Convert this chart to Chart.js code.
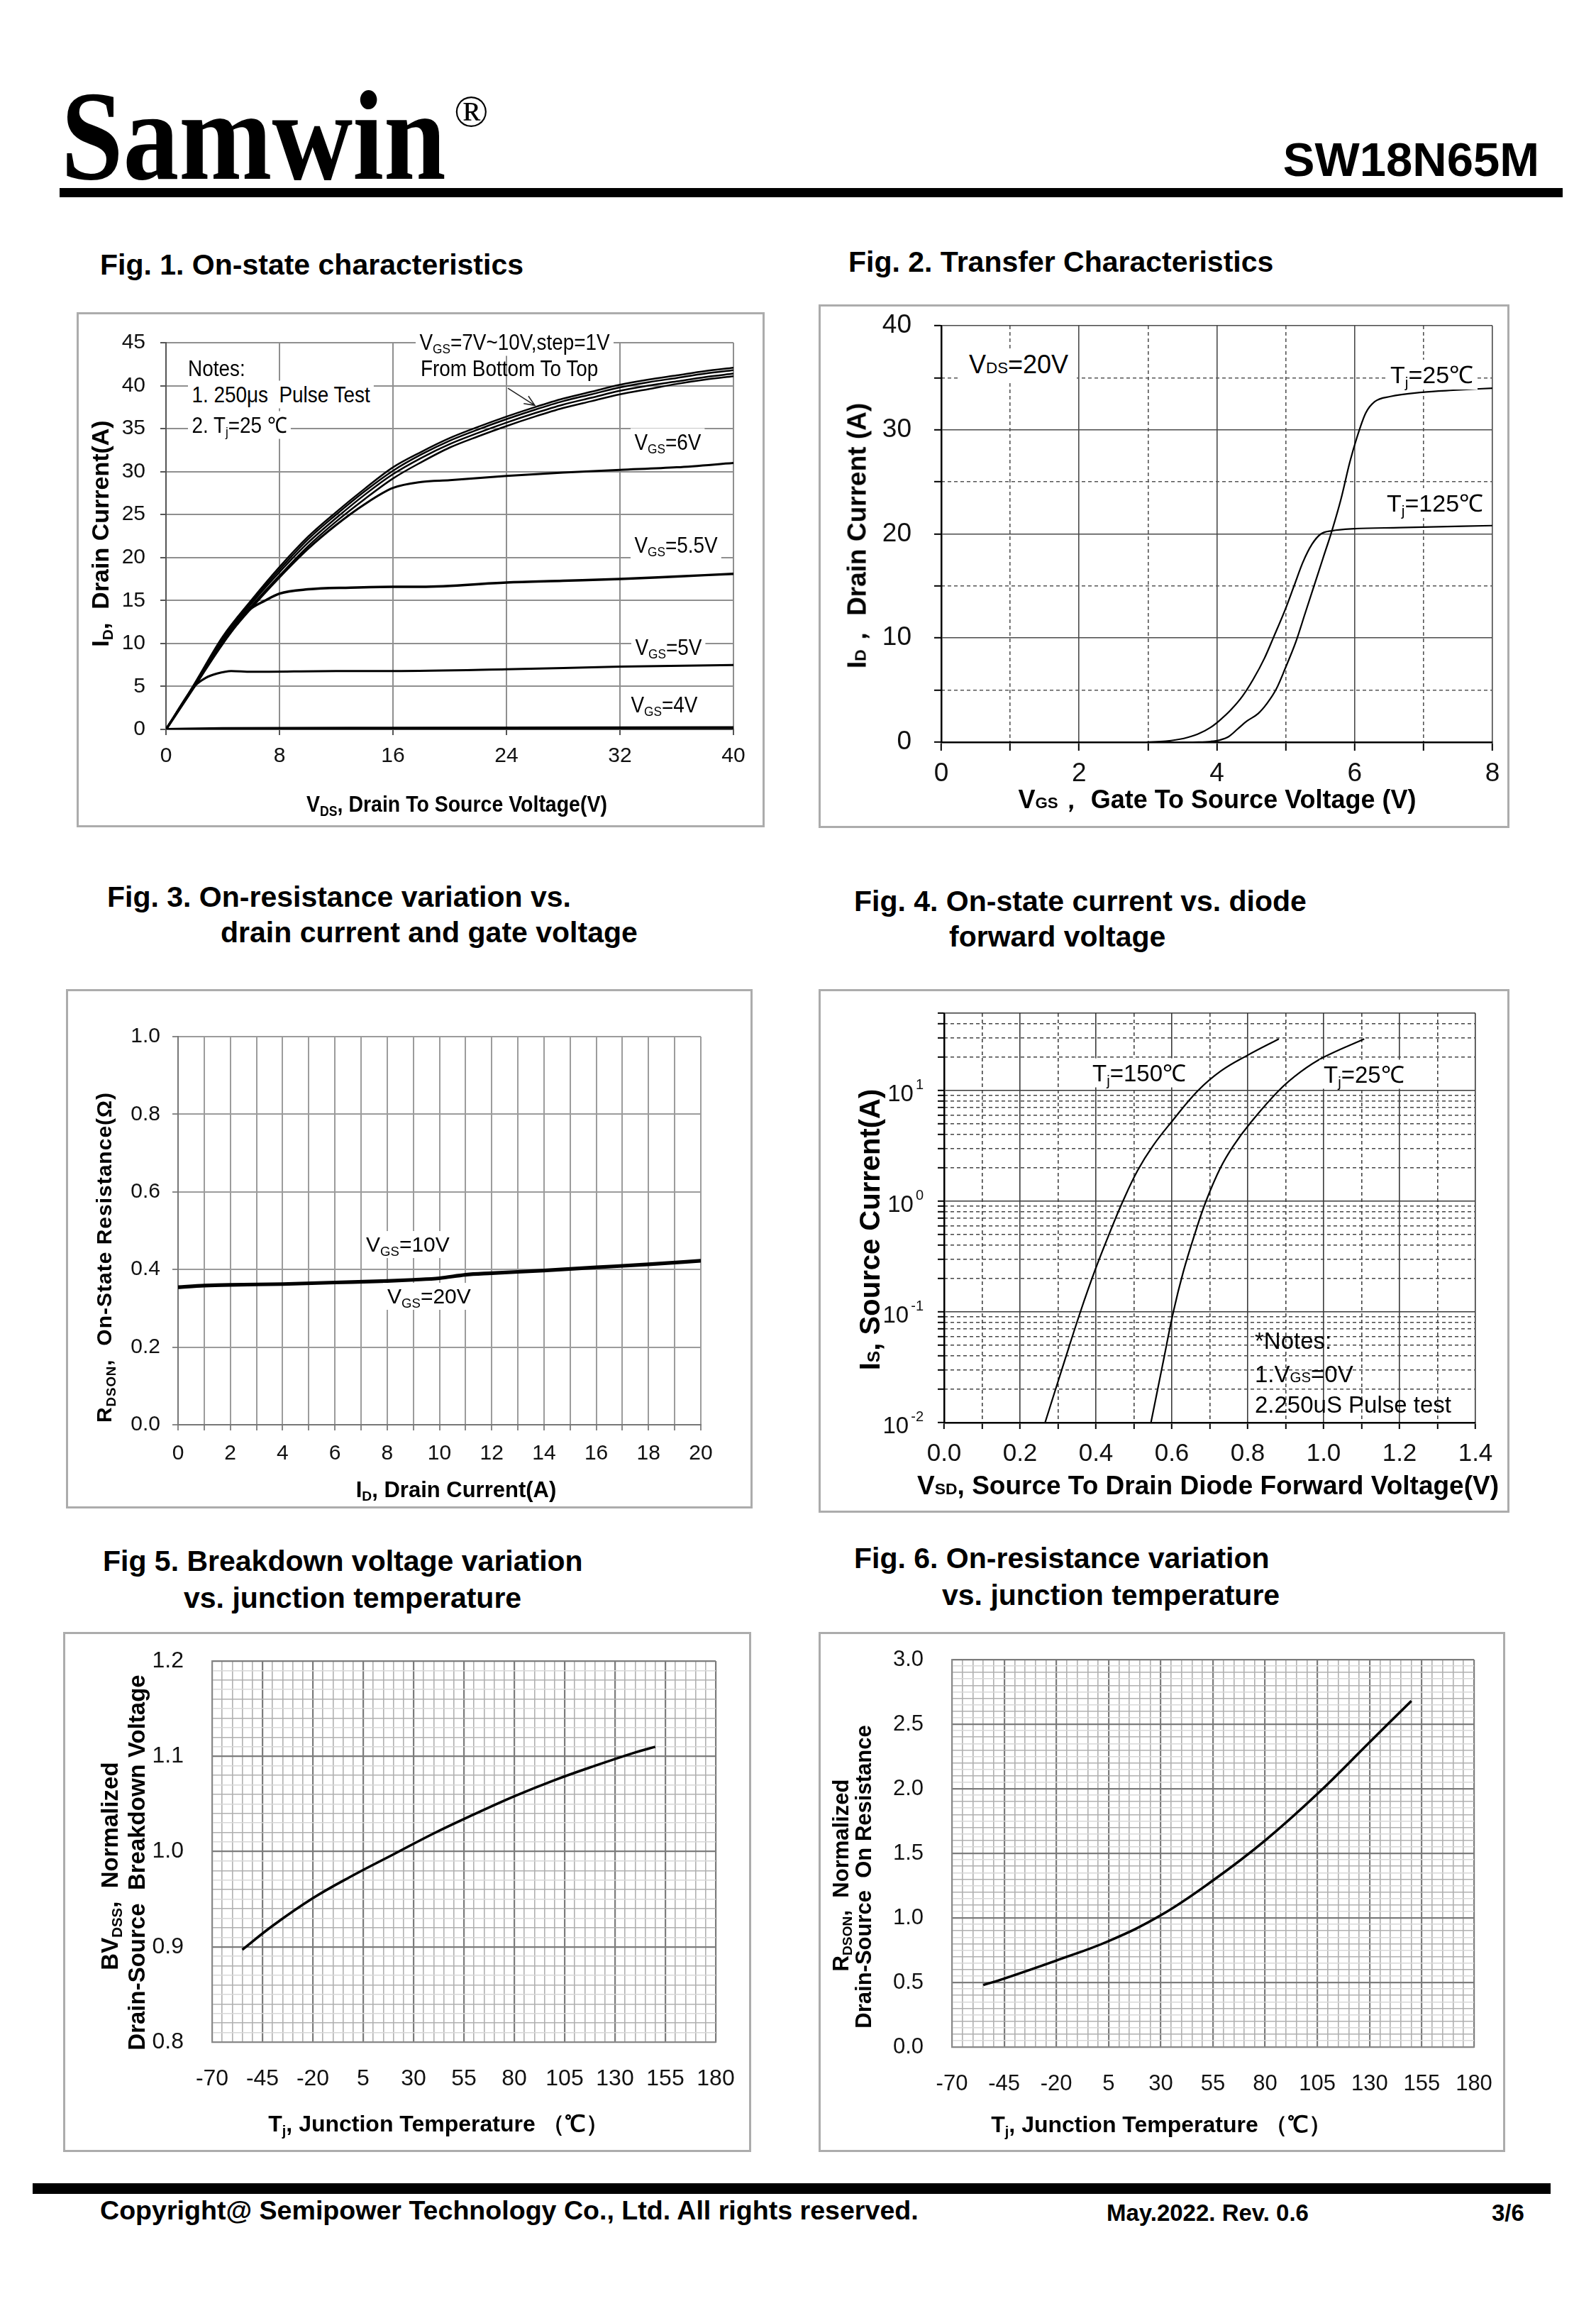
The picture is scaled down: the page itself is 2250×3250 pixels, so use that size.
<!DOCTYPE html>
<html>
<head>
<meta charset="utf-8">
<title>SW18N65M</title>
<script src="https://cdn.jsdelivr.net/npm/chart.js@4.4.1/dist/chart.umd.min.js"></script>
<style>
  html, body { margin: 0; padding: 0; background: #fff; }
  body { width: 2250px; height: 3250px; position: relative; overflow: hidden;
         font-family: 'Liberation Sans', Arial, sans-serif; color: #000; }
  .abs  { position: absolute; white-space: nowrap; line-height: 1; }
  .frame { position: absolute; box-sizing: border-box; border: 3px solid #acacac; z-index: 2; }
  canvas { position: absolute; z-index: 1; }
  .figt { font-weight: bold; font-size: 41px; transform: translateY(-50%); }
  .ann  { transform: translateY(-50%); z-index: 3; }
  .n1   { font-size: 31px; transform: translateY(-50%) scaleX(.9); transform-origin: left center; }
  .bg   { background: #fff; padding: 4px 6px; margin-left: -6px; }
  .ttl  { font-weight: bold; transform: translate(-50%, -50%); z-index: 3; }
  .rot  { font-weight: bold; transform: translate(-50%, -50%) rotate(-90deg); z-index: 3; }
  sub { font-size: 62%; vertical-align: -0.3em; line-height: 0; }
  .sm { font-size: 62%; }
  .bar { position: absolute; background: #000; }
</style>
</head>
<body>

<!-- header -->
<div class="abs" style="left:86px;top:192px;transform:translateY(-50%) scaleX(.875);transform-origin:left center;font-family:'Liberation Serif','Times New Roman',serif;font-weight:bold;font-size:180px;">Samwin</div>
<div class="abs" style="left:640px;top:157px;transform:translateY(-50%);font-family:'Liberation Serif','Times New Roman',serif;font-size:64px;">®</div>
<div class="abs" style="right:80px;top:224px;transform:translateY(-50%);font-weight:bold;font-size:67px;">SW18N65M</div>
<div class="bar" style="left:84px;top:265px;width:2119px;height:13px;"></div>

<!-- figure titles -->
<div class="abs figt" style="left:141px;top:373px;">Fig. 1. On-state characteristics</div>
<div class="abs figt" style="left:1196px;top:369px;">Fig. 2. Transfer Characteristics</div>
<div class="abs figt" style="left:151px;top:1264px;">Fig. 3. On-resistance variation vs.</div>
<div class="abs figt" style="left:311px;top:1314px;">drain current and gate voltage</div>
<div class="abs figt" style="left:1204px;top:1270px;">Fig. 4. On-state current vs. diode</div>
<div class="abs figt" style="left:1338px;top:1320px;">forward voltage</div>
<div class="abs figt" style="left:145px;top:2200px;">Fig 5. Breakdown voltage variation</div>
<div class="abs figt" style="left:259px;top:2252px;">vs. junction temperature</div>
<div class="abs figt" style="left:1204px;top:2196px;">Fig. 6. On-resistance variation</div>
<div class="abs figt" style="left:1328px;top:2248px;">vs. junction temperature</div>

<!-- chart frames + canvases -->
<div class="frame" style="left:108px;top:440px;width:970px;height:726px;"></div>
<div class="frame" style="left:1154px;top:429px;width:974px;height:738px;"></div>
<div class="frame" style="left:93px;top:1394px;width:968px;height:732px;"></div>
<div class="frame" style="left:1154px;top:1394px;width:974px;height:738px;"></div>
<div class="frame" style="left:89px;top:2300px;width:970px;height:733px;"></div>
<div class="frame" style="left:1154px;top:2300px;width:968px;height:733px;"></div>
<canvas id="c1"></canvas>
<canvas id="c2"></canvas>
<canvas id="c3"></canvas>
<canvas id="c4"></canvas>
<canvas id="c5"></canvas>
<canvas id="c6"></canvas>

<!-- Fig.1 texts -->
<div class="abs ann n1 bg" style="left:592px;top:482px;">V<sub>GS</sub>=7V~10V,step=1V</div>
<div class="abs ann n1" style="left:593px;top:519px;">From Bottom To Top</div>
<div class="abs ann n1" style="left:265px;top:519px;">Notes:</div>
<div class="abs ann n1 bg" style="left:271px;top:556px;">1. 250μs&nbsp; Pulse Test</div>
<div class="abs ann n1 bg" style="left:271px;top:599px;">2. T<sub>j</sub>=25 ℃</div>
<div class="abs ann n1 bg" style="left:895px;top:623px;">V<sub>GS</sub>=6V</div>
<div class="abs ann n1 bg" style="left:895px;top:768px;">V<sub>GS</sub>=5.5V</div>
<div class="abs ann n1 bg" style="left:896px;top:912px;">V<sub>GS</sub>=5V</div>
<div class="abs ann n1 bg" style="left:890px;top:993px;">V<sub>GS</sub>=4V</div>
<div class="abs ttl" style="left:644px;top:1133px;font-size:32px;transform:translate(-50%,-50%) scaleX(.89);">V<sub>DS</sub>, Drain To Source Voltage(V)</div>
<div class="abs rot" style="left:141px;top:752px;font-size:34px;">I<sub>D</sub>,&nbsp; Drain Current(A)</div>

<!-- Fig.2 texts -->
<div class="abs ann bg" style="left:1366px;top:514px;font-size:36px;padding:4px 12px;margin-left:-12px;">V<span class="sm">DS</span>=20V</div>
<div class="abs ann bg" style="left:1960px;top:528px;font-size:34px;">T<sub>j</sub>=25℃</div>
<div class="abs ann bg" style="left:1955px;top:709px;font-size:34px;">T<sub>j</sub>=125℃</div>
<div class="abs ttl" style="left:1716px;top:1127px;font-size:36px;">V<span class="sm">GS</span>，&nbsp;Gate To Source Voltage (V)</div>
<div class="abs rot" style="left:1208px;top:755px;font-size:37px;">I<span class="sm">D</span>，&nbsp;Drain Current (A)</div>

<!-- Fig.3 texts -->
<div class="abs ann bg" style="left:516px;top:1754px;font-size:30px;">V<sub>GS</sub>=10V</div>
<div class="abs ann bg" style="left:546px;top:1827px;font-size:30px;">V<sub>GS</sub>=20V</div>
<div class="abs ttl" style="left:643px;top:2099px;font-size:31px;">I<sub>D</sub>, Drain Current(A)</div>
<div class="abs rot" style="left:147px;top:1772px;font-size:30px;letter-spacing:1px;">R<sub>DSON</sub>,&nbsp; On-State Resistance(Ω)</div>

<!-- Fig.4 texts -->
<div class="abs ann bg" style="left:1540px;top:1512px;font-size:33px;">T<sub>j</sub>=150℃</div>
<div class="abs ann bg" style="left:1866px;top:1514px;font-size:33px;">T<sub>j</sub>=25℃</div>
<div class="abs ann" style="left:1769px;top:1889px;font-size:33px;">*Notes:</div>
<div class="abs ann" style="left:1769px;top:1936px;font-size:33px;">1.V<span class="sm">GS</span>=0V</div>
<div class="abs ann" style="left:1769px;top:1979px;font-size:33px;">2.250uS Pulse test</div>
<div class="abs ttl" style="left:1703px;top:2093px;font-size:37px;">V<span class="sm">SD</span>, Source To Drain Diode Forward Voltage(V)</div>
<div class="abs rot" style="left:1226px;top:1733px;font-size:40px;">I<span class="sm">S</span>, Source Current(A)</div>

<!-- Fig.5 texts -->
<div class="abs ttl" style="left:618px;top:2993px;font-size:32px;">T<sub>j</sub>, Junction Temperature （℃）</div>
<div class="abs rot" style="left:154px;top:2630px;font-size:33px;">BV<sub>DSS</sub>,&nbsp; Normalized</div>
<div class="abs rot" style="left:192px;top:2625px;font-size:33px;">Drain-Source&nbsp; Breakdown Voltage</div>

<!-- Fig.6 texts -->
<div class="abs ttl" style="left:1637px;top:2994px;font-size:32px;">T<sub>j</sub>, Junction Temperature （℃）</div>
<div class="abs rot" style="left:1185px;top:2643px;font-size:31px;">R<sub>DSON</sub>,&nbsp; Normalized</div>
<div class="abs rot" style="left:1217px;top:2645px;font-size:31px;">Drain-Source&nbsp; On Resistance</div>

<!-- footer -->
<div class="bar" style="left:46px;top:3077px;width:2140px;height:15px;"></div>
<div class="abs" style="left:141px;top:3116px;transform:translateY(-50%);font-weight:bold;font-size:37.6px;">Copyright@ Semipower Technology Co., Ltd. All rights reserved.</div>
<div class="abs" style="left:1560px;top:3118px;transform:translateY(-50%);font-weight:bold;font-size:33px;">May.2022. Rev. 0.6</div>
<div class="abs" style="left:2103px;top:3118px;transform:translateY(-50%);font-weight:bold;font-size:33px;">3/6</div>

<script>
/* ---------- data ---------- */

// Fig.1  ID vs VDS, pairs [VDS (V), ID (A)]
const id4V  = [[0,0],[4,0.1],[16,0.15],[40,0.2]];
const id5V  = [[0,0],[2,5],[2.8,6],[3.6,6.5],[4.6,6.8],[6,6.7],[12,6.8],[16,6.8],[24,7],[32,7.3],[40,7.5]];
const id55V = [[0,0],[2,5],[4,10],[5.8,13.8],[7,15],[8,15.8],[10,16.3],[13,16.5],[16,16.6],[18,16.6],[24,17.1],[28,17.3],[32,17.5],[36,17.8],[40,18.1]];
const id6V  = [[0,0],[2,5],[4,10.1],[6,14.1],[8,17.7],[10,21],[12,23.8],[14,26.2],[16,28.1],[18,28.8],[20,29],[24,29.5],[28,29.9],[32,30.2],[36,30.5],[40,31]];
const id7V  = [[0,0],[2,5],[4,10.2],[6,14.3],[8,17.9],[10,21.3],[12,24.2],[14,26.8],[16,29.2],[18,31.1],[20,32.8],[22,34.1],[24,35.3],[26,36.4],[28,37.4],[30,38.2],[32,39],[34,39.6],[36,40.2],[38,40.7],[40,41.1]];
const id8V  = [[0,0],[2,5.1],[4,10.4],[6,14.6],[8,18.3],[10,21.7],[12,24.6],[14,27.3],[16,29.7],[18,31.6],[20,33.2],[22,34.5],[24,35.7],[26,36.8],[28,37.8],[30,38.6],[32,39.4],[34,40],[36,40.5],[38,41],[40,41.4]];
const id9V  = [[0,0],[2,5.2],[4,10.6],[6,14.8],[8,18.6],[10,22.1],[12,25],[14,27.7],[16,30.1],[18,32],[20,33.6],[22,34.9],[24,36.1],[26,37.2],[28,38.2],[30,39],[32,39.8],[34,40.4],[36,40.9],[38,41.4],[40,41.8]];
const id10V = [[0,0],[2,5.3],[4,10.8],[6,15],[8,18.9],[10,22.4],[12,25.3],[14,28],[16,30.5],[18,32.3],[20,33.9],[22,35.2],[24,36.4],[26,37.5],[28,38.5],[30,39.3],[32,40.1],[34,40.7],[36,41.2],[38,41.7],[40,42.1]];
const fig1Arrow = [[24.1, 39.7], [26, 37.7]];   // label arrow, data coords

// Fig.2  ID vs VGS, [VGS (V), ID (A)]
const tr25  = [[3.65,0],[3.91,0.07],[4.04,0.2],[4.17,0.53],[4.3,1.26],[4.43,2],[4.6,2.75],[4.73,3.74],[4.86,5.07],[4.99,7.05],[5.15,9.7],[5.28,12.35],[5.41,15],[5.54,17.65],[5.67,20.3],[5.8,23.3],[5.93,26.9],[6.03,29.2],[6.16,31.6],[6.29,32.7],[6.52,33.2],[6.98,33.6],[7.43,33.8],[8,34]];
const tr125 = [[2.97,0],[3.26,0.1],[3.52,0.36],[3.72,0.76],[3.91,1.42],[4.04,2.09],[4.2,3.08],[4.37,4.4],[4.53,6.06],[4.69,8.05],[4.82,10.03],[4.99,12.7],[5.12,15],[5.25,17.3],[5.38,19],[5.51,20],[5.67,20.3],[6,20.5],[6.65,20.6],[8,20.8]];

// Fig.3  RDSON vs ID, [ID (A), R (ohm)]
const rds10V = [[0,0.356],[1,0.36],[2,0.362],[4,0.364],[6,0.368],[8,0.372],[9,0.375],[10,0.379],[11,0.388],[12,0.392],[14,0.399],[16,0.407],[18,0.415],[20,0.424]];
const rds20V = [[0,0.353],[1,0.357],[2,0.359],[4,0.361],[6,0.365],[8,0.369],[9,0.372],[10,0.376],[11,0.385],[12,0.389],[14,0.396],[16,0.404],[18,0.412],[20,0.421]];

// Fig.4  IS vs VSD, [VSD (V), IS (A)]
const diode150 = [[0.266,0.01],[0.312,0.0316],[0.359,0.1],[0.398,0.24],[0.438,0.537],[0.471,1],[0.51,1.9],[0.55,3.16],[0.6,5.25],[0.669,10],[0.73,15.1],[0.8,20.9],[0.882,29.3]];
const diode25  = [[0.545,0.01],[0.575,0.0324],[0.604,0.1],[0.63,0.229],[0.66,0.5],[0.69,1],[0.728,2],[0.762,3.16],[0.805,5],[0.882,10],[0.94,14.8],[1.0,20],[1.107,29.3]];
const logDecades = [-2, -1, 0, 1];
const logMantissa = [1, 2, 3, 4, 5, 6, 7, 8, 9];

// Fig.5  BVDSS (normalized) vs Tj, [Tj (C), BV]
const bvTj = [[-55,0.897],[-40,0.922],[-20,0.951],[0,0.975],[20,0.997],[40,1.019],[60,1.039],[80,1.058],[100,1.075],[120,1.09],[140,1.104],[150,1.11]];

// Fig.6  RDSON (normalized) vs Tj, [Tj (C), R]
const ronTj = [[-55,0.48],[-45,0.53],[-20,0.67],[5,0.82],[30,1.02],[55,1.29],[80,1.6],[105,1.96],[130,2.36],[150,2.68]];

/* ---------- helpers ---------- */
Chart.defaults.font.family = "'Liberation Sans', Arial, sans-serif";
Chart.defaults.color = '#111';
Chart.defaults.plugins.legend.display = false;
Chart.defaults.plugins.tooltip.enabled = false;
Chart.defaults.elements.point.radius = 0;

// canvas covers the frame; chart area placed through padding + fixed axis sizes
function place(id, box, area) {
  const c = document.getElementById(id);
  c.width = box[2] - box[0];
  c.height = box[3] - box[1];
  Object.assign(c.style, { left: box[0] + 'px', top: box[1] + 'px', width: c.width + 'px', height: c.height + 'px' });
  return {
    el: c,
    pad: { left: 0, top: area[1] - box[1], right: box[2] - area[2], bottom: 0 },
    yw: area[0] - box[0],
    xh: box[3] - area[3]
  };
}
// force an axis to a fixed size and stop its label overhang from moving the plot area
const fix = n => s => {
  if (s.isHorizontal()) s.height = n; else s.width = n;
  s.paddingTop = s.paddingBottom = s.paddingLeft = s.paddingRight = 0;
};
// monotone spline for the curves with flat plateaus, plain tension spline for the smooth ones
const line = (pts, w, smooth) => ({
  data: pts.map(p => ({ x: p[0], y: p[1] })),
  borderColor: '#000', borderWidth: w, fill: false,
  tension: 0.4, cubicInterpolationMode: smooth ? 'default' : 'monotone'
});
const base = L => ({
  responsive: false, animation: false, events: [], devicePixelRatio: 1,
  layout: { padding: L.pad }
});
const near = (v, step) => Math.abs(v / step - Math.round(v / step)) < 1e-6;
// a grid-only twin axis (no size, no labels) used for the dashed lines
const twin = (o) => Object.assign({
  display: true, afterFit: fix(0),
  ticks: { display: false, autoSkip: false }
}, o);

/* ---------- Fig.1 ---------- */
const L1 = place('c1', [108, 440, 1078, 1166], [234, 483, 1034, 1028]);
const arrowPlugin = {
  id: 'arrow',
  afterDatasetsDraw(chart) {
    const { ctx, scales: { x, y } } = chart;
    const x0 = x.getPixelForValue(fig1Arrow[0][0]), y0 = y.getPixelForValue(fig1Arrow[0][1]);
    const x1 = x.getPixelForValue(fig1Arrow[1][0]), y1 = y.getPixelForValue(fig1Arrow[1][1]);
    const a = Math.atan2(y1 - y0, x1 - x0);
    ctx.save();
    ctx.strokeStyle = '#222'; ctx.lineWidth = 1.6;
    ctx.beginPath(); ctx.moveTo(x0, y0); ctx.lineTo(x1, y1);
    ctx.moveTo(x1 - 16 * Math.cos(a - 0.4), y1 - 16 * Math.sin(a - 0.4)); ctx.lineTo(x1, y1);
    ctx.lineTo(x1 - 16 * Math.cos(a + 0.4), y1 - 16 * Math.sin(a + 0.4));
    ctx.stroke();
    ctx.restore();
  }
};
new Chart(L1.el, {
  type: 'line',
  data: { datasets: [line(id4V, 4), line(id5V, 3), line(id55V, 3.5), line(id6V, 3),
                     line(id7V, 2.5), line(id8V, 2.5), line(id9V, 2.5), line(id10V, 2.5)] },
  options: Object.assign(base(L1), {
    scales: {
      x: { type: 'linear', min: 0, max: 40, afterFit: fix(L1.xh),
           ticks: { stepSize: 8, autoSkip: false, maxRotation: 0, padding: 12, font: { size: 30 } },
           grid: { color: '#8f8f8f', lineWidth: 2, tickLength: 8, tickColor: '#555' },
           border: { color: '#555', width: 2 } },
      y: { type: 'linear', min: 0, max: 45, afterFit: fix(L1.yw),
           ticks: { stepSize: 5, autoSkip: false, padding: 21, font: { size: 30 } },
           grid: { color: '#8f8f8f', lineWidth: 2, tickLength: 8, tickColor: '#555' },
           border: { color: '#555', width: 2 } }
    }
  }),
  plugins: [arrowPlugin]
});

/* ---------- Fig.2 ---------- */
const L2 = place('c2', [1154, 429, 2128, 1167], [1327, 459, 2104, 1046]);
new Chart(L2.el, {
  type: 'line',
  data: { datasets: [line(tr25, 2.2), line(tr125, 2.2)] },
  options: Object.assign(base(L2), {
    scales: {
      x: { type: 'linear', min: 0, max: 8, afterFit: fix(L2.xh),
           ticks: { stepSize: 1, autoSkip: false, maxRotation: 0, padding: 11, font: { size: 37 },
                    callback: v => near(v, 2) ? String(v) : '' },
           grid: { color: c => near(c.tick.value, 2) ? '#4a4a4a' : 'rgba(0,0,0,0)', lineWidth: 1.6,
                   tickLength: 12, tickColor: '#000', tickWidth: 2 },
           border: { color: '#000', width: 2.5 } },
      x2: twin({ type: 'linear', position: 'bottom', min: 0, max: 8,
           ticks: { display: false, stepSize: 1, autoSkip: false },
           grid: { color: c => near(c.tick.value, 2) ? 'rgba(0,0,0,0)' : '#555', lineWidth: 1.6, drawTicks: false },
           border: { display: false, dash: [5, 4] } }),
      y: { type: 'linear', min: 0, max: 40, afterFit: fix(L2.yw),
           ticks: { stepSize: 5, autoSkip: false, padding: 32, font: { size: 37 },
                    callback: v => near(v, 10) ? String(v) : '' },
           grid: { color: c => near(c.tick.value, 10) ? '#4a4a4a' : 'rgba(0,0,0,0)', lineWidth: 1.6,
                   tickLength: 10, tickColor: '#000', tickWidth: 2 },
           border: { color: '#000', width: 2.5 } },
      y2: twin({ type: 'linear', position: 'left', min: 0, max: 40,
           ticks: { display: false, stepSize: 5, autoSkip: false },
           grid: { color: c => near(c.tick.value, 10) ? 'rgba(0,0,0,0)' : '#555', lineWidth: 1.6, drawTicks: false },
           border: { display: false, dash: [5, 4] } })
    }
  })
});

/* ---------- Fig.3 ---------- */
const L3 = place('c3', [93, 1394, 1061, 2126], [251, 1461, 988, 2008]);
new Chart(L3.el, {
  type: 'line',
  data: { datasets: [line(rds10V, 3.5), line(rds20V, 3.5)] },
  options: Object.assign(base(L3), {
    scales: {
      x: { type: 'linear', min: 0, max: 20, afterFit: fix(L3.xh),
           ticks: { stepSize: 1, autoSkip: false, maxRotation: 0, padding: 15, font: { size: 30 },
                    callback: v => near(v, 2) ? String(v) : '' },
           grid: { color: '#9c9c9c', lineWidth: 2, tickLength: 8, tickColor: '#888' },
           border: { color: '#777', width: 2 } },
      y: { type: 'linear', min: 0, max: 1, afterFit: fix(L3.yw),
           ticks: { stepSize: 0.2, autoSkip: false, padding: 17, font: { size: 30 }, callback: v => v.toFixed(1) },
           grid: { color: '#9c9c9c', lineWidth: 2, tickLength: 8, tickColor: '#888' },
           border: { color: '#777', width: 2 } }
    }
  })
});

/* ---------- Fig.4 ---------- */
const L4 = place('c4', [1154, 1394, 2128, 2132], [1331, 1428, 2080, 2005]);
const logTicks = [];
logDecades.forEach(d => logMantissa.forEach(m => logTicks.push(+(m * Math.pow(10, d)).toPrecision(3))));
const logAll = [...new Set(logTicks.concat([20, 30, 40, 50]))].filter(v => v <= 50).sort((a, b) => a - b);
const isDecade = v => logDecades.some(d => Math.abs(v - Math.pow(10, d)) < 1e-9) || v === 50;
const expLabels = {
  id: 'expLabels',
  afterDraw(chart) {
    const { ctx, chartArea, scales: { y } } = chart;
    ctx.save();
    ctx.fillStyle = '#111';
    ctx.textBaseline = 'middle';
    logDecades.forEach(d => {
      const py = y.getPixelForValue(Math.pow(10, d));
      const right = chartArea.left - 29;
      ctx.font = "20px 'Liberation Sans', Arial, sans-serif";
      ctx.textAlign = 'right';
      const ew = ctx.measureText(String(d)).width;
      ctx.fillText(String(d), right, py - 8);
      ctx.font = "33px 'Liberation Sans', Arial, sans-serif";
      ctx.fillText('10', right - ew - 3, py + 6);
    });
    ctx.restore();
  }
};
new Chart(L4.el, {
  type: 'line',
  data: { datasets: [line(diode150, 2.2, true), line(diode25, 2.2, true)] },
  options: Object.assign(base(L4), {
    scales: {
      x: { type: 'linear', min: 0, max: 1.4, afterFit: fix(L4.xh),
           ticks: { stepSize: 0.1, autoSkip: false, maxRotation: 0, padding: 14, font: { size: 35 },
                    callback: v => near(v, 0.2) ? v.toFixed(1) : '' },
           grid: { color: c => near(c.tick.value, 0.2) ? '#3a3a3a' : 'rgba(0,0,0,0)', lineWidth: 1.6,
                   tickLength: 9, tickColor: '#000', tickWidth: 2 },
           border: { color: '#000', width: 2.5 } },
      x2: twin({ type: 'linear', position: 'bottom', min: 0, max: 1.4,
           ticks: { display: false, stepSize: 0.1, autoSkip: false },
           grid: { color: c => near(c.tick.value, 0.2) ? 'rgba(0,0,0,0)' : '#444', lineWidth: 1.6, drawTicks: false },
           border: { display: false, dash: [5, 4] } }),
      y: { type: 'logarithmic', min: 0.01, max: 50, afterFit: fix(L4.yw),
           afterBuildTicks: s => { s.ticks = logAll.map(v => ({ value: v })); },
           ticks: { autoSkip: false, padding: 8, font: { size: 30 }, callback: () => '' },
           grid: { color: c => isDecade(c.tick.value) ? '#3a3a3a' : 'rgba(0,0,0,0)', lineWidth: 1.6,
                   tickLength: 9, tickColor: '#000', tickWidth: 2 },
           border: { color: '#000', width: 2.5 } },
      y2: twin({ type: 'logarithmic', position: 'left', min: 0.01, max: 50,
           afterBuildTicks: s => { s.ticks = logAll.map(v => ({ value: v })); },
           grid: { color: c => isDecade(c.tick.value) ? 'rgba(0,0,0,0)' : '#444', lineWidth: 1.6, drawTicks: false },
           border: { display: false, dash: [5, 4] } })
    }
  }),
  plugins: [expLabels]
});

/* ---------- Fig.5 & Fig.6 (fine graph-paper grid) ---------- */
const tempCol = c => near(c.tick.value + 70, 25) ? '#7c7c7c' : '#b0b0b0';
const tempW   = c => near(c.tick.value + 70, 25) ? 2.2 : 1.6;

const L5 = place('c5', [89, 2300, 1059, 3033], [299, 2341, 1009, 2878]);
new Chart(L5.el, {
  type: 'line',
  data: { datasets: [line(bvTj, 3.5, true)] },
  options: Object.assign(base(L5), {
    scales: {
      x: { type: 'linear', min: -70, max: 180, afterFit: fix(L5.xh),
           ticks: { stepSize: 5, autoSkip: false, maxRotation: 0, padding: 33, font: { size: 32 },
                    callback: v => near(v + 70, 25) ? String(v) : '' },
           grid: { color: tempCol, lineWidth: tempW, drawTicks: false },
           border: { color: '#888', width: 2 } },
      y: { type: 'linear', min: 0.8, max: 1.2, afterFit: fix(L5.yw),
           ticks: { stepSize: 0.01, autoSkip: false, padding: 40, font: { size: 32 },
                    callback: v => near(v, 0.1) ? v.toFixed(1) : '' },
           grid: { drawTicks: false,
                   color: c => near(c.tick.value, 0.1) ? '#7c7c7c' : near(c.tick.value, 0.02) ? '#b0b0b0' : '#d8d8d8',
                   lineWidth: c => near(c.tick.value, 0.1) ? 2.2 : 1.6 },
           border: { color: '#888', width: 2 } }
    }
  })
});

const L6 = place('c6', [1154, 2300, 2122, 3033], [1342, 2339, 2078, 2885]);
new Chart(L6.el, {
  type: 'line',
  data: { datasets: [line(ronTj, 3.5, true)] },
  options: Object.assign(base(L6), {
    scales: {
      x: { type: 'linear', min: -70, max: 180, afterFit: fix(L6.xh),
           ticks: { stepSize: 5, autoSkip: false, maxRotation: 0, padding: 34, font: { size: 31 },
                    callback: v => near(v + 70, 25) ? String(v) : '' },
           grid: { color: tempCol, lineWidth: tempW, drawTicks: false },
           border: { color: '#888', width: 2 } },
      y: { type: 'linear', min: 0, max: 3, afterFit: fix(L6.yw),
           ticks: { stepSize: 0.05, autoSkip: false, padding: 40, font: { size: 31 },
                    callback: v => near(v, 0.5) ? v.toFixed(1) : '' },
           grid: { drawTicks: false,
                   color: c => near(c.tick.value, 0.5) ? '#7c7c7c' : near(c.tick.value, 0.1) ? '#b0b0b0' : '#d8d8d8',
                   lineWidth: c => near(c.tick.value, 0.5) ? 2.2 : 1.6 },
           border: { color: '#888', width: 2 } }
    }
  })
});
</script>
</body>
</html>
